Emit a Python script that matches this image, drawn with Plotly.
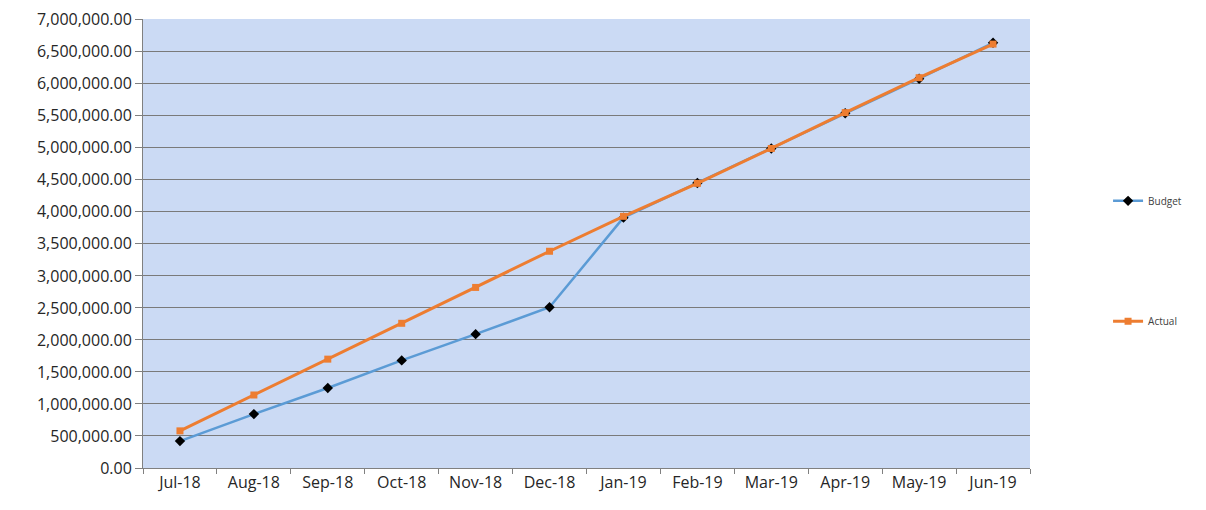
import plotly.graph_objects as go

months = ["Jul-18", "Aug-18", "Sep-18", "Oct-18", "Nov-18", "Dec-18",
          "Jan-19", "Feb-19", "Mar-19", "Apr-19", "May-19", "Jun-19"]
budget = [420000, 842000, 1250000, 1680000, 2090000, 2510000,
          3910000, 4450000, 4990000, 5540000, 6080000, 6640000]
actual = [580000, 1140000, 1700000, 2260000, 2820000, 3385000,
          3930000, 4445000, 4990000, 5550000, 6095000, 6620000]

fig = go.Figure()
fig.add_trace(go.Scatter(
    x=months, y=budget, name="Budget", mode="lines+markers",
    line=dict(color="#5b9bd5", width=2.5),
    marker=dict(symbol="diamond", color="black", size=8),
    showlegend=True, legend="legend"))
fig.add_trace(go.Scatter(
    x=months, y=actual, name="Actual", mode="lines+markers",
    line=dict(color="#ed7d31", width=3),
    marker=dict(symbol="square", color="#ed7d31", size=7),
    showlegend=True, legend="legend2"))

font = "Open Sans, Liberation Sans, sans-serif"
fig.update_layout(
    width=1190, height=494,
    margin=dict(l=135, r=168, t=11, b=34),
    paper_bgcolor="white",
    plot_bgcolor="#cbdaf4",
    showlegend=True,
    font=dict(family=font, size=16, color="#262626"),
    legend=dict(x=1.088, y=0.595, xanchor="left", yanchor="middle",
                font=dict(size=10, color="#404040"), bgcolor="rgba(0,0,0,0)"),
    legend2=dict(x=1.088, y=0.327, xanchor="left", yanchor="middle",
                 font=dict(size=10, color="#404040"), bgcolor="rgba(0,0,0,0)"),
)
fig.update_xaxes(
    type="category", range=[-0.5, 11.5],
    tickson="boundaries", ticks="outside", ticklen=5, tickcolor="#808080",
    showgrid=False, showline=True, linecolor="#808080", linewidth=1,
    tickfont=dict(size=16), fixedrange=True, automargin=False)
fig.update_yaxes(
    range=[0, 7012000], tickmode="linear", tick0=0, dtick=500000,
    tickformat=",.2f",
    ticklabeloverflow="allow",
    showgrid=True, gridcolor="#7a7a7a", gridwidth=1,
    ticks="outside", ticklen=7, tickcolor="#808080",
    showline=True, linecolor="#808080", linewidth=1,
    zeroline=False, tickfont=dict(size=16), fixedrange=True, automargin=False)

fig.write_html("out.html")
